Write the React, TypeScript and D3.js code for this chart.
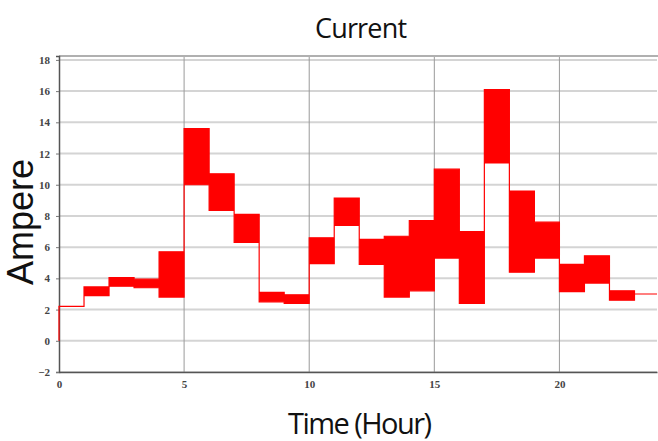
import React, { useEffect, useRef } from "react";
import * as d3 from "d3";

// hourly current band: min / max per hour (A)
const hours = [0, 1, 2, 3, 4, 5, 6, 7, 8, 9, 10, 11, 12, 13, 14, 15, 16, 17, 18, 19, 20, 21, 22, 23];
const minAmp = [2.2, 2.9, 3.5, 3.4, 2.8, 10.0, 8.35, 6.3, 2.5, 2.4, 4.95, 7.4, 4.9, 2.8, 3.2, 5.3, 2.4, 11.4, 4.4, 5.3, 3.15, 3.7, 2.6, 3.0];
const maxAmp = [2.2, 3.45, 4.05, 3.95, 5.7, 13.6, 10.7, 8.1, 3.1, 2.95, 6.6, 9.15, 6.5, 6.7, 7.7, 11.0, 7.0, 16.1, 9.6, 7.6, 4.9, 5.45, 3.2, 3.0];
const xTicks = [0, 5, 10, 15, 20];
const yTicks = [-2, 0, 2, 4, 6, 8, 10, 12, 14, 16, 18];

const App = () => {
  const svgRef = useRef<SVGSVGElement>(null);

  useEffect(() => {
    const svg = d3.select(svgRef.current);
    svg.selectAll("*").remove();

    const width = 658;
    const height = 441;
    const margin = { top: 56, right: 1, bottom: 69, left: 59 };

    const x = d3.scaleLinear().domain([0, 23.9]).range([margin.left, width - margin.right]);
    const y = d3.scaleLinear().domain([-2, 18.25]).range([height - margin.bottom, margin.top]);

    // start at 0 A, then the hourly bands, closing at the last hour end
    const pts = [{ t: 0, lo: 0, hi: 0 }]
      .concat(hours.map((h, i) => ({ t: h, lo: minAmp[i], hi: maxAmp[i] })))
      .concat([{ t: 24, lo: minAmp[minAmp.length - 1], hi: maxAmp[maxAmp.length - 1] }]);

    svg.attr("width", width).attr("height", height).style("display", "block");

    svg.append("defs").append("clipPath").attr("id", "clip")
      .append("rect")
      .attr("x", margin.left - 1).attr("y", margin.top)
      .attr("width", width - margin.left - margin.right + 1)
      .attr("height", height - margin.top - margin.bottom);

    // horizontal grid
    svg.append("g")
      .selectAll("line")
      .data(yTicks)
      .join("line")
      .attr("x1", margin.left).attr("x2", width - margin.right)
      .attr("y1", (d) => y(d)).attr("y2", (d) => y(d))
      .attr("stroke", "#d4d4d4").attr("stroke-width", 2);

    // vertical grid
    svg.append("g")
      .selectAll("line")
      .data(xTicks.slice(1))
      .join("line")
      .attr("x1", (d) => x(d)).attr("x2", (d) => x(d))
      .attr("y1", margin.top).attr("y2", height - margin.bottom)
      .attr("stroke", "#9a9a9a").attr("stroke-width", 1);

    // frame
    svg.append("line")
      .attr("x1", margin.left).attr("x2", width)
      .attr("y1", margin.top).attr("y2", margin.top)
      .attr("stroke", "#b0b0b0").attr("stroke-width", 2);

    const tickFont = "'Liberation Serif', 'DejaVu Serif', serif";

    const xAxis = svg.append("g")
      .attr("transform", `translate(0,${height - margin.bottom})`)
      .call(d3.axisBottom(x).tickValues(xTicks).tickSize(0).tickPadding(8));
    xAxis.select(".domain").attr("stroke", "#555").attr("stroke-width", 1.5);
    xAxis.selectAll("text")
      .attr("font-family", tickFont).attr("font-weight", "bold")
      .attr("font-size", 11).attr("fill", "#444");

    const yAxis = svg.append("g")
      .attr("transform", `translate(${margin.left},0)`)
      .call(d3.axisLeft(y).tickValues(yTicks).tickSize(3).tickPadding(6));
    yAxis.select(".domain").attr("stroke", "#555").attr("stroke-width", 1.5);
    yAxis.selectAll(".tick line").attr("stroke", "#777");
    yAxis.selectAll("text")
      .attr("font-family", tickFont).attr("font-weight", "bold")
      .attr("font-size", 11).attr("fill", "#444");

    const area = d3.area<any>()
      .x((d) => x(d.t))
      .y0((d) => y(d.lo))
      .y1((d) => y(d.hi))
      .curve(d3.curveStepAfter);

    svg.append("path")
      .datum(pts)
      .attr("fill", "#ff0000")
      .attr("stroke", "#ff0000")
      .attr("stroke-width", 1.2)
      .attr("clip-path", "url(#clip)")
      .attr("d", area);

    // titles
    svg.append("text")
      .attr("x", 361).attr("y", 38)
      .attr("text-anchor", "middle")
      .attr("font-family", "'Open Sans', sans-serif")
      .attr("font-size", 27)
      .attr("textLength", 92)
      .attr("fill", "#111")
      .text("Current");

    svg.append("text")
      .attr("x", 360).attr("y", 434)
      .attr("text-anchor", "middle")
      .attr("font-family", "'Open Sans', sans-serif")
      .attr("font-size", 29)
      .attr("textLength", 144)
      .attr("fill", "#111")
      .text("Time (Hour)");

    svg.append("text")
      .attr("transform", "translate(33,222) rotate(-90)")
      .attr("text-anchor", "middle")
      .attr("font-family", "'Liberation Sans', Arial, sans-serif")
      .attr("font-size", 36)
      .attr("fill", "#111")
      .text("Ampere");
  }, []);

  return <svg ref={svgRef} style={{ position: "absolute", left: 0, top: 0 }}></svg>;
};

export default App;
